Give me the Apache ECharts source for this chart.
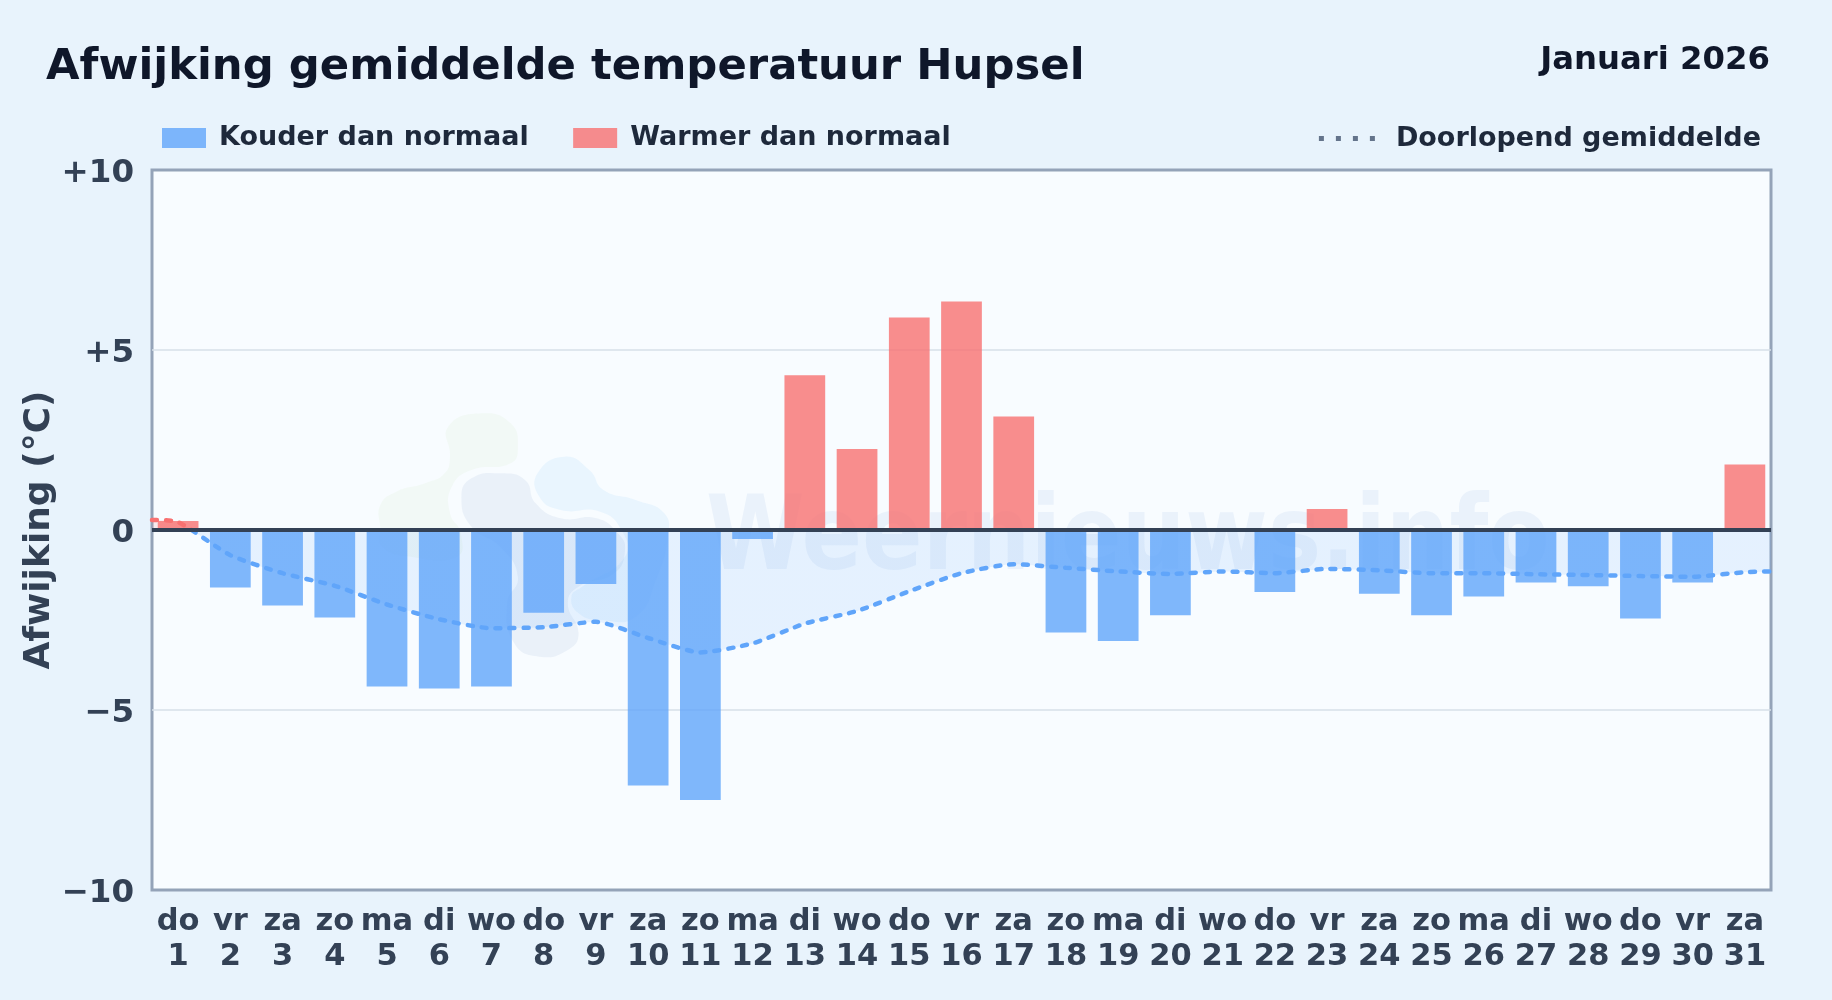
<!DOCTYPE html>
<html><head><meta charset="utf-8">
<style>html,body{margin:0;padding:0;background:#e8f3fc}#c{width:1832px;height:1000px}</style>
<script src="https://cdn.jsdelivr.net/npm/echarts@6/dist/echarts.min.js"></script>
</head><body><div id="c"></div>
<script>
const weekdays = ['do','vr','za','zo','ma','di','wo','do','vr','za','zo','ma','di','wo','do','vr','za','zo','ma','di','wo','do','vr','za','zo','ma','di','wo','do','vr','za'];
const deviation = [0.25,-1.6,-2.1,-2.43,-4.35,-4.4,-4.35,-2.3,-1.5,-7.1,-7.5,-0.25,4.3,2.25,5.9,6.35,3.15,-2.85,-3.08,-2.37,0,-1.72,0.58,-1.77,-2.37,-1.85,-1.46,-1.56,-2.46,-1.46,1.82];
const runningMean = [0.22,-0.7,-1.2,-1.55,-2.07,-2.48,-2.73,-2.7,-2.55,-3.0,-3.4,-3.15,-2.6,-2.25,-1.7,-1.2,-0.95,-1.05,-1.15,-1.22,-1.15,-1.2,-1.08,-1.12,-1.2,-1.2,-1.23,-1.25,-1.28,-1.3,-1.17];
const meanAtLeftEdge = 0.28, meanAtRightEdge = -1.15;
const yTicks = [-10,-5,0,5,10];

const FONT = '"DejaVu Sans"';
const categories = weekdays.map((d,i)=>d+'\n'+(i+1));
const cold = deviation.map(v=>v<0?v:null);
const warm = deviation.map(v=>v>0?v:null);
const meanLine = [[0,meanAtLeftEdge], ...runningMean.map((v,i)=>[i+0.5,v]), [31,meanAtRightEdge]];
const names = ['Kouder dan normaal','Warmer dan normaal','Doorlopend gemiddelde'];
const pt = (zx,zy)=>[350+zx/2.8, 390+zy/3];
const blob = (pts,fill)=>({type:'polygon',silent:true,shape:{points:pts.map(p=>pt(p[0],p[1])),smooth:0.5},style:{fill}});
const split = (a,b)=>({type:'linear',x:0,y:170,x2:0,y2:890,global:true,colorStops:[{offset:0,color:a},{offset:0.5,color:a},{offset:0.5,color:b},{offset:1,color:b}]});

const chart = echarts.init(document.getElementById('c'),null,{renderer:'canvas'});
chart.setOption({
  animation:false,
  backgroundColor:'#e8f3fc',
  title:[
    {text:'Afwijking gemiddelde temperatuur Hupsel',left:41,top:41,textStyle:{fontFamily:FONT,fontWeight:'bold',fontSize:43.35,color:'#0f172a'}},
    {text:'Januari 2026',right:57,top:40,textStyle:{fontFamily:FONT,fontWeight:'bold',fontSize:32.3,color:'#0f172a'}}
  ],
  legend:[
    {data:[names[0],names[1]],icon:'rect',left:162,top:124.5,padding:0,itemWidth:44,itemHeight:20,itemGap:44.5,selectedMode:false,
     textStyle:{fontFamily:FONT,fontWeight:'bold',fontSize:27,lineHeight:20,color:'#1e293b',padding:[0,0,0,8]}},
    {data:[{name:names[2],icon:'path://M0 0h5v5H0zM17 0h5v5h-5zM34 0h5v5h-5zM51 0h5v5h-5z',itemStyle:{color:'#64748b',opacity:1}}],right:71,top:125,padding:0,itemWidth:56,itemHeight:20,selectedMode:false,
     textStyle:{fontFamily:FONT,fontWeight:'bold',fontSize:27,lineHeight:20,color:'#1e293b',padding:[0,0,0,16]}}
  ],
  grid:{left:152,right:61,top:170,bottom:110,show:true,backgroundColor:'#f8fcff',borderColor:'#94a3b8',borderWidth:3},
  graphic:[
    blob([[85,415],[85,345],[130,305],[210,280],[265,250],[280,200],[275,110],[370,70],[450,100],[470,170],[450,220],[340,240],[285,290],[280,370],[310,430],[300,500],[170,500],[90,470]],'rgba(190,220,150,0.09)'),
    blob([[312,320],[340,265],[420,250],[490,270],[520,340],[590,385],[690,385],[750,430],[770,480],[740,550],[640,590],[610,640],[640,730],[610,780],[530,800],[460,760],[440,640],[470,560],[420,470],[340,410]],'rgba(120,150,200,0.1)'),
    blob([[525,250],[600,200],[670,240],[710,300],[800,330],[880,370],[890,440],[860,560],[800,680],[700,690],[640,670],[620,620],[650,590],[770,500],[760,420],[700,365],[590,360],[530,320]],'rgba(110,190,250,0.1)'),
    {type:'text',silent:true,x:706,y:491,scaleX:0.868,style:{text:'Weernieuws.info',fontFamily:FONT,fontWeight:'bold',fontSize:103,fill:'rgba(80,130,200,0.08)'}}
  ],
  xAxis:[
    {type:'category',data:categories,boundaryGap:true,axisLine:{show:false},axisTick:{show:false},
     axisLabel:{fontFamily:FONT,fontWeight:'bold',fontSize:30.5,lineHeight:35,color:'#334155',margin:15,interval:0}},
    {type:'value',show:false,min:0,max:31,position:'bottom'}
  ],
  yAxis:{type:'value',min:-10,max:10,interval:5,
    name:'Afwijking (°C)',nameLocation:'middle',nameRotate:90,nameGap:94,nameMoveOverlap:false,
    nameTextStyle:{fontFamily:FONT,fontWeight:'bold',fontSize:36,color:'#334155'},
    axisLine:{show:false},axisTick:{show:false},
    axisLabel:{fontFamily:FONT,fontWeight:'bold',fontSize:32.5,color:'#334155',margin:18,verticalAlign:'top',lineHeight:7,
      customValues:yTicks,
      formatter:v=>v>0?'+'+v:(v<0?'\u2212'+Math.abs(v):'0')},
    splitLine:{showMinLine:false,showMaxLine:false,lineStyle:{color:'#d7e1e8',width:1.5}}},
  series:[
    {name:names[0],type:'bar',data:cold,barWidth:'78%',barGap:'-100%',itemStyle:{color:'rgba(96,165,250,0.8)'},
     markLine:{silent:true,symbol:'none',label:{show:false},lineStyle:{color:'#334155',width:4,type:'solid'},data:[{yAxis:0}],z:5}},
    {name:names[1],type:'bar',data:warm,barWidth:'78%',barGap:'-100%',itemStyle:{color:'rgba(248,113,113,0.8)'}},
    {name:names[2],type:'line',xAxisIndex:1,data:meanLine,smooth:0.2,symbol:'none',z:4,
     lineStyle:{width:4.5,type:[5,9],cap:'round',color:split('#f87171','#60a5fa')},
     areaStyle:{origin:0,color:split('rgba(248,113,113,0.18)','rgba(96,165,250,0.18)')}}
  ]
});
</script></body></html>
